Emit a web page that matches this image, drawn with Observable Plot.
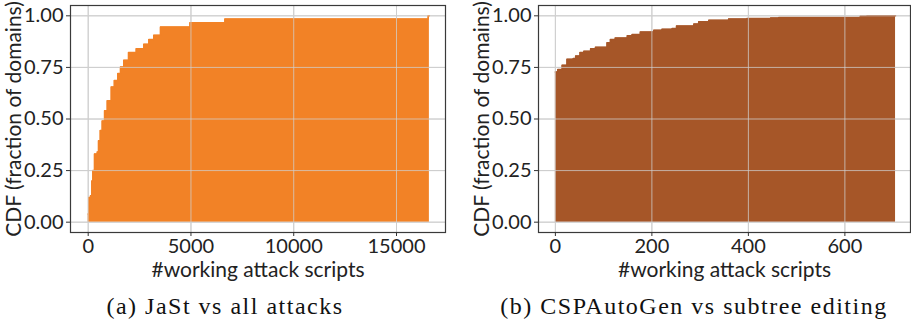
<!DOCTYPE html>
<html>
<head>
<meta charset="utf-8">
<script src="https://cdn.jsdelivr.net/npm/d3@7"></script>
<script src="https://cdn.jsdelivr.net/npm/@observablehq/plot@0.6"></script>
<style>
  html, body { margin: 0; padding: 0; background: #fff; overflow: hidden; }
  #wrap { position: relative; width: 911px; height: 325px; overflow: hidden; background: #fff; }
  .panel { position: absolute; top: 0; }
  .cap { position: absolute; top: 293px; font-family: "Liberation Serif", "DejaVu Serif", serif; font-size: 24px; letter-spacing: 1.5px; color: #111; white-space: nowrap; transform: translateX(-50%); }
</style>
</head>
<body>
<div id="wrap">
  <div id="pa" class="panel" style="left:0px"></div>
  <div id="pb" class="panel" style="left:455px"></div>
  <div class="cap" style="left:225px">(a) JaSt vs all attacks</div>
  <div class="cap" style="left:694px">(b) CSPAutoGen vs subtree editing</div>
</div>
<script>
// Panel (a): JaSt vs all attacks — empirical CDF (step-after)
const jastX = [0, 30, 110, 175, 225, 305, 440, 500, 585, 680, 795, 925, 1120, 1270, 1440, 1570, 1730, 1960, 2335, 2705, 2950, 3190, 3515, 4950, 6650, 16540, 16600];
const jastY = [0.04, 0.12, 0.128, 0.2, 0.25, 0.33, 0.34, 0.395, 0.444, 0.49, 0.54, 0.588, 0.655, 0.687, 0.72, 0.752, 0.785, 0.822, 0.841, 0.862, 0.885, 0.906, 0.946, 0.966, 0.985, 1.0, 1.0];

// Panel (b): CSPAutoGen vs subtree editing
const cspX = [0, 5, 14, 24, 37, 42, 51, 59, 73, 83, 107, 114, 124, 149, 159, 176, 204, 221, 242, 251, 287, 297, 318, 359, 397, 446, 463, 632, 646, 705];
const cspY = [0.728, 0.74, 0.76, 0.79, 0.793, 0.805, 0.822, 0.828, 0.841, 0.848, 0.87, 0.885, 0.893, 0.903, 0.91, 0.922, 0.93, 0.935, 0.939, 0.951, 0.96, 0.971, 0.979, 0.984, 0.987, 0.99, 0.992, 0.9985, 1.0, 1.0];

const xTicksA = [0, 5000, 10000, 15000];
const xTicksB = [0, 200, 400, 600];
const yTicks = [0, 0.25, 0.5, 0.75, 1.0];
const xLabel = "#working attack scripts";
const yLabel = "CDF (fraction of domains)";

function panel(xs, ys, color, xDomain, xTicks, width, marginLeft, marginRight) {
  const data = xs.map((x, i) => ({x, y: ys[i]}));
  return Plot.plot({
    width, height: 290,
    marginLeft, marginRight, marginTop: 5, marginBottom: 58,
    style: {fontFamily: "Lato, 'Open Sans', sans-serif", fontSize: "20px", color: "#222", background: "transparent", overflow: "visible"},
    x: {domain: xDomain},
    y: {domain: [-0.05, 1.05]},
    marks: [
      Plot.gridX(xTicks, {stroke: "#c8c8c8", strokeOpacity: 1, strokeWidth: 1}),
      Plot.gridY(yTicks, {stroke: "#c8c8c8", strokeOpacity: 1, strokeWidth: 1}),
      Plot.areaY(data, {x: "x", y: "y", curve: "step-after", fill: color}),
      Plot.lineY(data, {x: "x", y: "y", curve: "step-after", stroke: color, strokeWidth: 1.5}),
      Plot.gridX(xTicks, {stroke: "#d0d0d0", strokeOpacity: 0.75, strokeWidth: 1}),
      Plot.gridY(yTicks, {stroke: "#d0d0d0", strokeOpacity: 0.75, strokeWidth: 1}),
      Plot.frame({stroke: "#3a3a3a", strokeWidth: 1.2}),
      Plot.axisX(xTicks, {tickSize: 4, tickPadding: 2, tickFormat: d3.format("d"), label: null, stroke: "#333"}),
      Plot.axisY(yTicks, {tickSize: 4, tickPadding: 3, tickFormat: d3.format(".2f"), label: null, stroke: "#333"}),
      Plot.text([xLabel], {frameAnchor: "bottom", dy: 38, lineAnchor: "middle", textAnchor: "middle", fontSize: 21, fill: "#222"}),
      Plot.text([yLabel], {frameAnchor: "left", dx: -56, rotate: -90, lineAnchor: "middle", textAnchor: "middle", fontSize: 21, fill: "#222"})
    ]
  });
}

document.getElementById("pa").appendChild(
  panel(jastX, jastY, "#f28226", [-861, 17384], xTicksA, 455, 70, 10));
document.getElementById("pb").appendChild(
  panel(cspX, cspY, "#a65628", [-35, 736], xTicksB, 456, 83, 1));
</script>
</body>
</html>
